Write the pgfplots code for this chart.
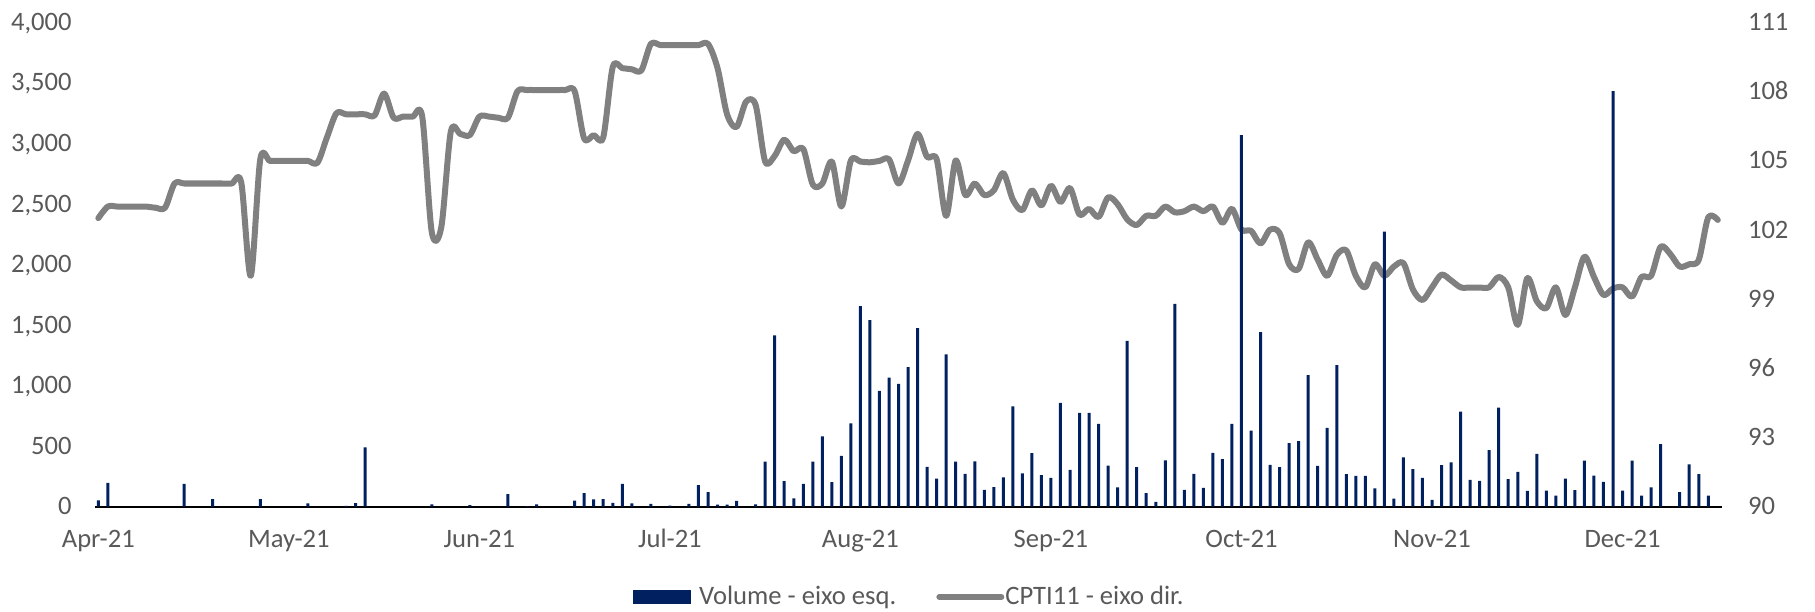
\documentclass[border=0pt]{standalone}
\usepackage{pgfplots}
\pgfplotsset{compat=1.18}
\usepackage{fontspec}
\setmainfont{Carlito}
\definecolor{navy}{RGB}{0,32,96}
\definecolor{linegray}{RGB}{128,128,128}
\definecolor{txt}{RGB}{89,89,89}

\begin{document}
\begin{tikzpicture}
\pgfplotsset{
  base/.style={
    width=813.3pt, height=242.25pt, scale only axis,
    xmin=-0.35, xmax=170.4,
    tick style={draw=none}, major tick length=0pt,
    ticklabel style={font=\fontsize{13.3}{16}\selectfont, text=txt},
    /pgf/number format/assume math mode=true,
    /pgf/number format/1000 sep={,},
    scaled y ticks=false,
  }
}
% secondary axis (price line), drawn first so bars lie on top
\begin{axis}[base,
  ymin=90, ymax=111, ytick={90,93,...,111},
  axis y line*=right, axis x line=none,
  y axis line style={draw=none},
  yticklabel style={anchor=base west, inner sep=0pt, xshift=13pt, yshift=-4.2pt},
]
\addplot[linegray, line width=3pt, smooth, tension=0.5, line join=round, line cap=round] table {
x y
0 102.5
1 103.0
2 103.0
3 103.0
4 103.0
5 103.0
6 102.95
7 102.95
8 104.0
9 104.0
10 104.0
11 104.0
12 104.0
13 104.0
14 104.0
15 104.05
16 100.0
17 105.05
18 104.98
19 104.98
20 104.98
21 104.98
22 104.98
23 104.9
24 106.0
25 107.05
26 107.0
27 107.0
28 107.0
29 106.95
30 107.9
31 106.85
32 106.9
33 106.9
34 106.9
35 101.9
36 102.1
37 106.25
38 106.15
39 106.1
40 106.9
41 106.9
42 106.85
43 106.85
44 108.0
45 108.05
46 108.05
47 108.05
48 108.05
49 108.05
50 108.0
51 105.95
52 106.1
53 106.0
54 109.05
55 109.0
56 108.95
57 108.9
58 110.05
59 110.0
60 110.0
61 110.0
62 110.0
63 110.0
64 110.05
65 109.0
66 107.0
67 106.45
68 107.55
69 107.4
70 104.95
71 105.2
72 105.9
73 105.4
74 105.5
75 103.95
76 104.0
77 104.95
78 103.0
79 105.0
80 104.95
81 104.92
82 104.98
83 105.05
84 104.0
85 105.0
86 106.15
87 105.15
88 105.05
89 102.6
90 105.0
91 103.5
92 104.0
93 103.5
94 103.7
95 104.45
96 103.3
97 102.85
98 103.7
99 103.05
100 103.9
101 103.2
102 103.8
103 102.65
104 102.9
105 102.55
106 103.4
107 103.1
108 102.45
109 102.2
110 102.6
111 102.6
112 103.0
113 102.75
114 102.8
115 103.0
116 102.8
117 103.0
118 102.3
119 102.9
120 102.0
121 101.95
122 101.4
123 102.0
124 101.85
125 100.5
126 100.3
127 101.45
128 100.7
129 100.0
130 100.9
131 101.1
132 100.0
133 99.5
134 100.5
135 100.0
136 100.4
137 100.55
138 99.4
139 98.95
140 99.5
141 100.05
142 99.8
143 99.5
144 99.49
145 99.49
146 99.5
147 99.95
148 99.5
149 97.87
150 99.9
151 98.9
152 98.6
153 99.5
154 98.3
155 99.5
156 100.83
157 99.95
158 99.17
159 99.45
160 99.5
161 99.1
162 99.95
163 100.0
164 101.26
165 100.95
166 100.4
167 100.5
168 100.69
169 102.54
170 102.42
};
\end{axis}
% primary axis (volume bars)
\begin{axis}[base,
  ymin=0, ymax=4000, ytick={0,500,...,4000},
  axis x line*=bottom, axis y line*=left,
  y axis line style={draw=none},
  x axis line style={black, line width=1pt},
  xtick={0,20,...,160},
  xticklabels={Apr-21,May-21,Jun-21,Jul-21,Aug-21,Sep-21,Oct-21,Nov-21,Dec-21},
  xticklabel style={anchor=base, yshift=-20.7pt, inner sep=0pt},
  yticklabel style={anchor=base east, inner sep=0pt, xshift=-11.5pt, yshift=-4.2pt},
  legend style={at={(0.5,-0.1868)}, anchor=center, draw=none, fill=none,
    font=\fontsize{13.3}{16}\selectfont, text=txt, inner sep=0pt,
    /tikz/every even column/.append style={column sep=20pt},
    nodes={inner sep=0pt}},
  legend columns=2,
]
\coordinate (O) at (rel axis cs:0,0);
\addplot[ybar, bar width=1.5pt, bar shift=0pt, fill=navy, draw=none,
  legend image code/.code={\fill[navy] (0pt,-3.3pt) rectangle (29pt,3.3pt);
    \path[draw=none, fill=none] (0pt,0pt) -- (33pt,0pt);}] table {
x y
0 50
1 196
9 186
12 60
17 60
22 25
26 5
27 28
28 488
35 18
39 12
43 102
45 3
46 18
50 48
51 110
52 59
53 60
54 30
55 186
56 25
58 22
60 7
62 22
63 177
64 118
65 15
66 15
67 46
69 18
70 371
71 1413
72 210
73 68
74 186
75 371
76 578
77 201
78 418
79 687
80 1654
81 1538
82 955
83 1065
84 1012
85 1151
86 1473
87 328
88 230
89 1255
90 371
91 269
92 373
93 137
94 160
95 240
96 826
97 274
98 441
99 260
100 236
101 855
102 303
103 774
104 774
105 683
106 337
107 158
108 1367
109 325
110 110
111 38
112 380
113 1673
114 137
115 269
116 153
117 442
118 392
119 683
120 3067
121 627
122 1440
123 344
124 325
125 523
126 540
127 1084
128 335
129 650
130 1168
131 268
132 252
133 252
134 150
135 2270
136 65
137 406
138 308
139 237
140 54
141 342
142 364
143 783
144 220
145 211
146 466
147 816
148 226
149 285
150 129
151 434
152 132
153 90
154 231
155 135
156 378
157 254
158 203
159 3429
160 132
161 378
162 89
163 157
164 514
166 119
167 348
168 268
169 90
};
\addlegendentry{Volume - eixo esq.}
\addlegendimage{legend image code/.code={\draw[draw=linegray, line width=3pt, line cap=round] (0pt,0pt) -- (31pt,0pt);
    \path[draw=none, fill=none] (0pt,0pt) -- (33pt,0pt);}}
\addlegendentry{CPTI11 - eixo dir.}
\end{axis}
\pgfresetboundingbox
\path ([shift={(-47.5pt,-52.25pt)}]O) rectangle ++(907.5pt,305.5pt);
\end{tikzpicture}
\end{document}
